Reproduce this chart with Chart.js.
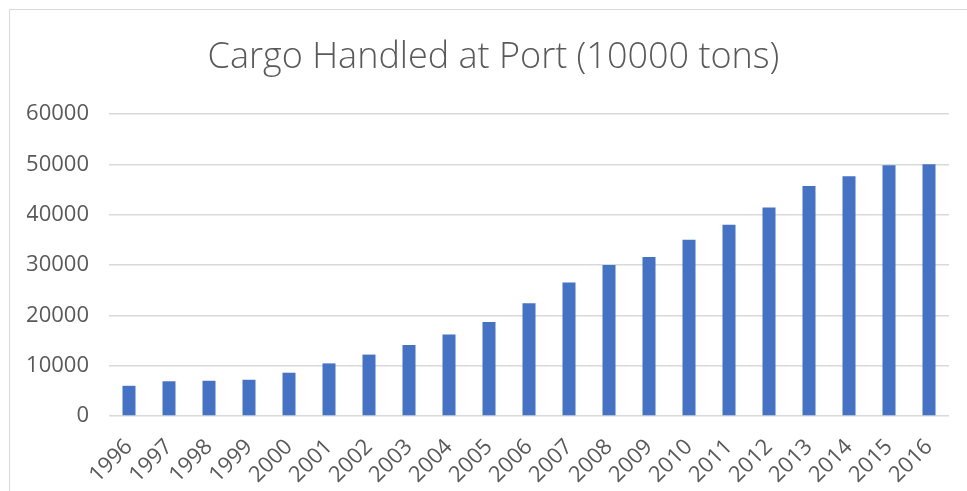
<!DOCTYPE html>
<html>
<head>
<meta charset="utf-8">
<script src="https://cdn.jsdelivr.net/npm/chart.js@4"></script>
<style>
html,body{margin:0;padding:0;width:967px;height:491px;overflow:hidden;background:#fff;}
#frame{position:absolute;left:9px;top:9px;width:980px;height:500px;border:1px solid #d9d9d9;box-sizing:border-box;}
#wrap{position:absolute;left:0;top:0;width:967px;height:491px;}
</style>
</head>
<body>
<div id="frame"></div>
<div id="wrap"><canvas id="c" width="967" height="491"></canvas></div>
<script>
const years = ['1996','1997','1998','1999','2000','2001','2002','2003','2004','2005','2006','2007','2008','2009','2010','2011','2012','2013','2014','2015','2016'];
const cargo = [6000,6900,7000,7200,8600,10450,12200,14100,16200,18700,22400,26500,30000,31600,35000,38000,41400,45700,47650,49800,50000];
const yTicks = [0,10000,20000,30000,40000,50000,60000];
const titleText = 'Cargo Handled at Port (10000 tons)';

const titlePlugin = {
  id: 'offsetTitle',
  afterDraw(chart) {
    const ctx = chart.ctx;
    ctx.save();
    ctx.font = "300 36px 'Open Sans', 'Noto Sans', sans-serif";
    ctx.fillStyle = '#595959';
    ctx.textAlign = 'center';
    ctx.textBaseline = 'middle';
    ctx.fillText(titleText, chart.width / 2 + 10, 58);
    ctx.restore();
  }
};

new Chart(document.getElementById('c'), {
  type: 'bar',
  data: {
    labels: years,
    datasets: [{
      data: cargo,
      backgroundColor: '#4472C4',
      borderWidth: 0,
      categoryPercentage: 1,
      barPercentage: 0.325
    }]
  },
  options: {
    responsive: false,
    animation: false,
    devicePixelRatio: 1,
    layout: { padding: { left: 27, right: 18, top: 114, bottom: 0 } },
    plugins: {
      legend: { display: false },
      tooltip: { enabled: false },
      title: { display: false }
    },
    scales: {
      x: {
        grid: { display: false, drawTicks: false },
        border: { display: false },
        ticks: {
          color: '#595959',
          font: { family: "'Open Sans', 'Noto Sans', sans-serif", size: 22 },
          minRotation: 45, maxRotation: 45, padding: 18, autoSkip: false
        },
        afterFit: s => { s.height = 75; }
      },
      y: {
        min: 0, max: 60000,
        afterBuildTicks: s => { s.ticks = yTicks.map(v => ({ value: v })); },
        grid: { color: '#d9d9d9', lineWidth: 1.5, drawTicks: false },
        border: { display: false },
        ticks: {
          color: '#595959',
          font: { family: "'Open Sans', 'Noto Sans', sans-serif", size: 22 },
          padding: 20,
          callback: v => String(v)
        },
        afterFit: s => { s.width = 82; }
      }
    }
  },
  plugins: [titlePlugin]
});
</script>
</body>
</html>
